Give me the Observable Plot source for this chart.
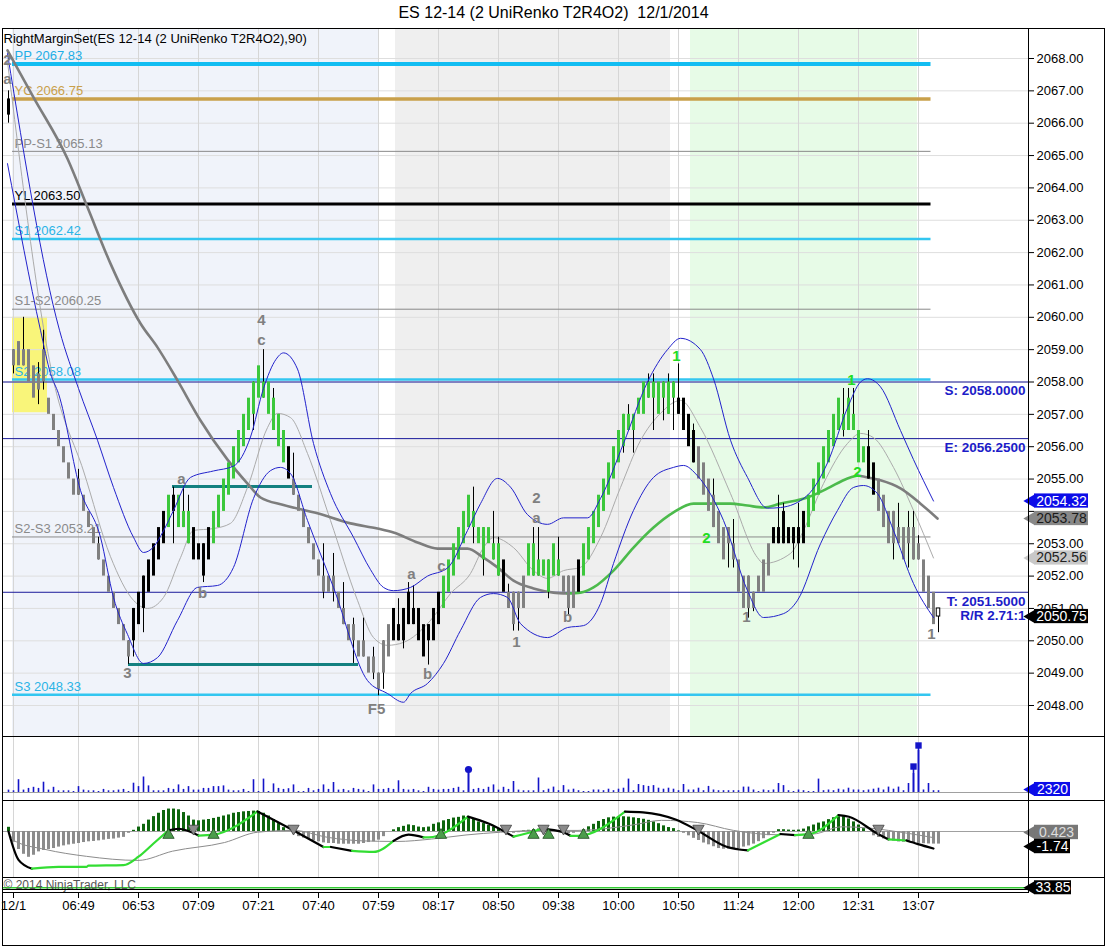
<!DOCTYPE html>
<html>
<head>
<meta charset="utf-8">
<script src="https://cdn.jsdelivr.net/npm/d3@7"></script>
<script src="https://cdn.jsdelivr.net/npm/@observablehq/plot@0.6"></script>
<style>
  html, body { margin: 0; padding: 0; background: #fff; }
  #wrap { position: relative; width: 1107px; height: 948px; overflow: hidden; background: #fff; font-family: "Liberation Sans", Arial, Helvetica, sans-serif; }
  #wrap svg { position: absolute; left: 0; }
  .hl { position: absolute; background: #000; height: 1px; }
  .vl { position: absolute; background: #000; width: 1px; }
  #title { position: absolute; top: 4px; left: 0; width: 1107px; text-align: center; font-size: 16px; color: #000; }
</style>
</head>
<body>
<div id="wrap">
  <div id="title">ES 12-14 (2 UniRenko T2R4O2)&nbsp;&nbsp;12/1/2014</div>
</div>
<script>
// ---------------- DATA ----------------
const tickIdx = [1, 14, 26, 38, 50, 62, 74, 86, 98, 110, 122, 134, 146, 158, 170, 182];
const tickLabels = ["12/1","06:49","06:53","07:09","07:21","07:40","07:59","08:17","08:50","09:38","10:00","10:50","11:24","12:00","12:31","13:07"];
const priceTicks = d3.range(2048, 2069);
const hiddenPriceLabels = [2054]; // covered by the price tags in the reference

const barOpen = [2066.75,
 2059.0,2059.25,2059.0,2059.0,2058.5,2058.25,2059.0,2057.5,2057.0,
 2056.5,2056.0,2055.5,2055.0,2055.0,2054.5,2054.0,2053.5,2053.0,2052.5,
 2052.0,2051.5,2051.0,2050.5,2050.0,2050.0,2050.5,2051.0,2051.5,2052.0,
 2052.5,2053.0,2053.5,2054.5,2053.5,2053.5,2053.0,2053.5,2053.0,2053.0,
 2052.5,2053.0,2053.5,2054.0,2054.5,2055.0,2055.5,2056.0,2056.5,2057.0,
 2057.5,2057.5,2058.0,2057.5,2057.0,2056.5,2056.0,2055.0,2054.5,2054.0,
 2053.5,2053.0,2052.5,2052.0,2052.0,2052.0,2051.5,2051.0,2050.5,2050.5,
 2050.0,2050.0,2049.5,2049.5,2049.0,2049.0,2049.5,2050.0,2050.5,2051.0,
 2050.5,2051.0,2051.0,2050.5,2050.5,2050.0,2050.5,2051.0,2051.5,2052.0,
 2052.5,2053.0,2053.5,2053.5,2053.5,2053.5,2053.5,2053.0,2053.0,2052.5,
 2051.5,2051.5,2051.5,2052.0,2052.0,2052.0,2052.0,2052.0,2052.5,2052.0,
 2052.0,2052.0,2052.0,2052.0,2051.5,2052.0,2052.5,2053.0,2053.5,2054.0,
 2054.5,2055.0,2055.5,2056.0,2056.5,2056.5,2057.0,2057.0,2057.5,2057.5,
 2057.0,2057.5,2057.0,2057.5,2057.5,2057.5,2057.0,2056.5,2056.0,2055.5,
 2055.0,2054.5,2054.0,2053.5,2053.5,2053.0,2052.5,2052.0,2052.0,2051.5,
 2052.0,2052.5,2053.0,2053.0,2053.0,2053.0,2053.5,2053.5,2053.5,2053.0,
 2053.5,2054.0,2054.5,2055.0,2055.5,2056.0,2056.5,2056.5,2056.5,2056.5,
 2056.5,2056.0,2056.0,2055.5,2055.0,2054.5,2054.0,2054.0,2053.5,2053.5,
 2053.5,2053.5,2053.0,2052.5,2052.0,2051.5,2051.0];
const barClose = [2066.25,
 2058.5,2058.5,2058.5,2058.0,2057.5,2057.75,2058.0,2057.0,2056.5,
 2056.0,2055.5,2055.0,2054.5,2054.5,2054.0,2053.5,2053.0,2052.5,2052.0,
 2051.5,2051.0,2050.5,2050.0,2049.5,2051.0,2051.5,2052.0,2052.5,2053.0,
 2053.5,2054.0,2054.5,2054.0,2054.5,2054.0,2054.0,2052.5,2052.5,2052.0,
 2053.5,2054.0,2054.5,2055.0,2055.5,2056.0,2056.5,2057.0,2057.5,2058.0,
 2058.5,2058.0,2057.0,2056.5,2056.0,2055.5,2055.0,2054.5,2054.0,2053.5,
 2053.0,2052.5,2052.0,2051.5,2051.5,2051.5,2051.0,2050.5,2050.0,2050.0,
 2049.5,2049.5,2049.0,2049.0,2048.5,2050.0,2050.5,2051.0,2050.0,2050.0,
 2051.5,2050.5,2050.0,2049.5,2050.0,2051.0,2051.5,2052.0,2052.5,2053.0,
 2053.5,2054.0,2054.5,2054.0,2053.0,2052.5,2053.0,2052.5,2052.0,2051.5,
 2051.0,2050.5,2051.0,2051.0,2053.0,2053.0,2052.5,2052.5,2051.5,2053.0,
 2052.5,2051.5,2051.0,2051.0,2052.5,2053.0,2053.5,2054.0,2054.5,2055.0,
 2055.5,2056.0,2056.5,2057.0,2057.0,2057.0,2057.5,2058.0,2058.0,2058.0,
 2058.0,2058.0,2058.0,2058.0,2057.0,2056.5,2056.0,2055.5,2055.0,2054.5,
 2054.0,2053.5,2053.0,2052.5,2053.0,2052.5,2051.5,2051.0,2051.0,2051.0,
 2051.5,2051.5,2052.0,2053.5,2053.5,2054.0,2053.0,2053.0,2053.0,2054.0,
 2054.5,2055.0,2055.5,2056.0,2056.5,2057.0,2057.5,2057.0,2057.5,2057.0,
 2055.5,2055.5,2055.0,2054.5,2054.0,2053.5,2053.0,2053.0,2053.0,2052.5,
 2053.0,2052.5,2052.5,2051.5,2051.0,2050.5,2050.75];
// bar colour runs: k black, s gray, g green, w current (hollow)
const colorRuns = [["k",1],["s",24],["k",7],["g",1],["k",1],["g",3],["k",4],["g",15],["k",1],["s",20],["k",10],["g",12],["k",1],["s",4],["g",7],["s",3],["k",1],["g",19],["k",4],["s",15],["k",7],["g",12],["k",2],["s",12],["w",1]];
// wicks: [bar, high, low]
const wicks = [[0,2067.0,2066.0],[1,2059.0,2058.25],[3,2060.0,2058.5],[6,2058.6,2057.3],[7,2059.6,2057.75],[14,2055.3,2054.5],[18,2053.2,2052.5],[24,2050.0,2049.27],[25,2051.0,2049.5],[27,2052.0,2050.25],[33,2054.75,2053.0],[35,2054.75,2053.5],[36,2054.5,2053.0],[39,2053.0,2051.8],[49,2058.0,2056.5],[51,2059.0,2057.5],[53,2057.8,2056.5],[57,2055.8,2054.5],[63,2053.0,2051.3],[65,2052.7,2051.2],[67,2051.8,2050.5],[69,2050.7,2049.3],[71,2050.7,2049.5],[73,2049.8,2048.8],[74,2049.0,2048.3],[75,2050.0,2048.5],[78,2051.3,2050.0],[79,2051.0,2049.75],[80,2051.8,2050.5],[81,2051.7,2050.5],[84,2050.5,2049.25],[93,2054.75,2053.0],[95,2053.5,2052.0],[97,2054.0,2052.5],[98,2053.2,2052.0],[100,2051.75,2051.0],[101,2051.5,2050.3],[102,2051.5,2050.3],[105,2053.5,2052.0],[106,2053.5,2052.0],[108,2052.5,2051.3],[110,2053.2,2052.0],[112,2052.0,2050.8],[123,2057.0,2055.8],[124,2057.3,2056.5],[125,2057.0,2055.8],[128,2058.25,2057.5],[129,2058.25,2056.5],[131,2058.0,2056.8],[132,2058.25,2057.0],[133,2058.0,2056.5],[134,2058.56,2057.0],[137,2056.7,2055.5],[141,2055.0,2053.5],[144,2053.5,2052.25],[145,2053.75,2052.25],[148,2052.0,2050.7],[149,2051.5,2050.9],[154,2054.5,2053.0],[155,2054.25,2053.0],[157,2053.5,2052.5],[158,2054.25,2052.25],[167,2057.8,2056.3],[168,2057.8,2056.5],[169,2057.8,2056.5],[172,2056.5,2055.0],[177,2054.0,2052.5],[178,2054.25,2053.0],[180,2054.0,2052.25],[181,2054.0,2052.5],[182,2053.25,2052.5],[186,2051.0,2050.25]];

// indicator curves [bar, price]
const upperBand = [[-0.2,2068.15],[10.2,2059.6],[14,2057.8],[17.8,2056.2],[21,2054.74],[25,2053.2],[27,2052.73],[29,2052.9],[31,2053.4],[33,2054.03],[36.4,2055.05],[41,2055.25],[45,2055.4],[48.4,2056.3],[51,2057.8],[53.5,2058.7],[55,2058.9],[57.8,2058.4],[61,2056.1],[64.4,2054.55],[69,2053.2],[72.4,2052.2],[75,2051.65],[77,2051.55],[80.4,2051.65],[83.8,2052.0],[87.8,2052.25],[91.8,2053.41],[94.4,2054.24],[97.8,2055.02],[100.4,2054.75],[103.8,2053.9],[107.8,2053.6],[111,2053.8],[115.8,2053.8],[118.4,2054.4],[123,2056.1],[127.8,2058.0],[131.8,2059.0],[134.4,2059.35],[138.4,2059.0],[141,2058.1],[144.4,2056.2],[147.8,2055.05],[151.8,2054.1],[154.4,2054.12],[159.8,2054.5],[163.8,2055.5],[167.8,2057.2],[170.4,2058.0],[171.8,2058.1],[174.4,2057.85],[178.4,2056.5],[181,2055.6],[185,2054.32]];
const lowerBand = [[-0.2,2064.75],[6.4,2059.6],[8.4,2058.26],[10,2057.64],[14.4,2054.65],[18.4,2053.2],[21,2051.34],[23.8,2050.2],[27,2049.3],[29.8,2049.48],[33.8,2050.63],[37.8,2051.65],[41.8,2051.71],[45,2052.27],[49,2054.4],[52.4,2055.26],[54.4,2055.36],[56.4,2055.17],[59.8,2053.72],[65,2051.65],[71.8,2048.77],[75.8,2048.37],[79,2048.1],[80.4,2048.37],[83.8,2048.68],[87,2049.3],[90.4,2050.32],[94.4,2051.34],[97,2051.46],[99.8,2051.34],[102.4,2050.53],[107.8,2050.1],[111.8,2050.41],[115,2050.47],[118.4,2051.15],[121,2052.39],[125,2054.03],[129,2055.05],[133,2055.36],[135,2055.42],[137.8,2055.1],[143,2053.72],[147.8,2051.55],[151,2050.72],[155,2050.84],[157.8,2051.25],[162.4,2053.0],[165.8,2054.03],[169,2054.74],[171,2054.8],[173.8,2054.55],[177,2053.41],[181,2051.77],[185,2050.72]];
const midLine = [[-0.2,2067.9],[9,2058.05],[15,2055.25],[20.4,2052.6],[25,2051.25],[27.8,2051.0],[31,2051.34],[34.4,2052.57],[37,2053.41],[41,2053.47],[44.4,2053.63],[47.8,2054.74],[51.8,2056.59],[53.8,2057.03],[56.4,2056.9],[59.8,2055.79],[64.4,2053.72],[69.8,2051.25],[73,2050.1],[75.8,2049.86],[79,2049.95],[84.4,2050.63],[88.4,2051.46],[92.4,2052.08],[95,2052.88],[97,2053.19],[101,2052.88],[105,2052.17],[107.8,2051.93],[111,2052.17],[114.4,2052.27],[118.4,2053.19],[122.4,2054.74],[126.4,2056.19],[130.4,2057.03],[134.4,2057.43],[138.4,2056.59],[144.4,2054.55],[149.8,2052.57],[151,2052.39],[156.4,2052.7],[159,2053.41],[163,2054.86],[167.8,2056.1],[170.4,2056.41],[173,2056.28],[177,2055.36],[181,2054.03],[185,2052.56]];
const slowMaA = [[-0.2,2068.25],[5,2066.8],[11.8,2064.9],[15.8,2063.4],[20.4,2061.66],[26.4,2059.81],[29.8,2059.07],[33.8,2058.05],[38.4,2056.81],[43.8,2055.6],[47.8,2054.86],[50.4,2054.43],[55,2054.2],[61.8,2053.94],[68.4,2053.63],[73.8,2053.47],[77,2053.35],[81.8,2053.04],[85.8,2052.85],[91.8,2052.85],[95,2052.57],[97.8,2052.27],[101,2051.86],[105,2051.62],[109,2051.49],[111.8,2051.46]];
const slowMaB = [[111.8,2051.46],[114.4,2051.49],[117,2051.65],[121,2052.17],[125,2052.88],[129,2053.5],[133,2053.97],[137,2054.24],[141,2054.24],[144.4,2054.24],[147.8,2054.18],[151,2054.12],[154.4,2054.24],[159.8,2054.43],[163.8,2054.71],[167.8,2055.02],[169.8,2055.11]];
const slowMaC = [[169.8,2055.11],[171.8,2055.05],[174.4,2054.96],[178.4,2054.71],[182.4,2054.24],[185.8,2053.78]];

const pivotNames = ["PP","YC","PP-S1","YL","S1","S1-S2","S2","S2-S3","S3"];
const pivotValues = [2067.83, 2066.75, 2065.13, 2063.50, 2062.42, 2060.25, 2058.08, 2053.21, 2048.33];
const tradeValues = [2058.0, 2056.25, 2051.5];
const tradeLabels = ["S: 2058.0000", "E: 2056.2500", "T: 2051.5000"];
const rrLabel = "R/R 2.71:1";
const tealLevels = [[32.8, 60.8, 2054.77], [24, 70, 2049.27]];
const sessionSpans = [[0.8, 74], [77.4, 132.4], [136.4, 181.8]];
const yellowBox = [0.8, 7.8, 2057.05, 2060.0];
const waveGray = [[-0.2,2067.94,"2"],[-0.2,2067.35,"a"],[50.6,2059.9,"4"],[50.6,2059.3,"c"],[34.6,2055.0,"a"],[23.8,2049.0,"3"],[38.8,2051.46,"b"],[80.6,2052.05,"a"],[86.6,2052.3,"c"],[83.8,2048.96,"b"],[73.6,2047.9,"F5"],[105.6,2054.4,"2"],[105.6,2053.8,"a"],[101.6,2049.97,"1"],[111.8,2050.72,"b"],[147.6,2050.72,"1"],[184.6,2050.2,"1"]];
const waveGreen = [[133.6,2058.8,"1"],[168.6,2058.05,"1"],[169.8,2055.2,"2"],[139.6,2053.16,"2"]];
const priceTags = [[2054.32,"2054.32"],[2053.78,"2053.78"],[2052.56,"2052.56"],[2050.75,"2050.75"]];

const volume = [1850,1310,9860,1850,3160,4000,3160,7930,1850,4000,
 1310,1310,1310,770,4540,1850,1310,1310,770,2390,
 1310,1310,1850,2390,770,7160,4540,11940,5080,1310,
 1310,1310,3160,2390,5850,2390,4540,1850,1850,3160,
 3160,4540,4540,5080,1850,1310,1310,2390,770,9860,
 770,10320,770,6620,3160,2390,2930,5850,770,770,
 3160,1310,2390,5850,2390,7700,1850,2390,1310,3160,
 2390,1850,770,5850,2390,2390,3160,2390,9010,2390,
 1850,2390,1310,770,4000,2390,1850,2390,2390,3160,
 4000,1310,15170,2390,3160,2390,4000,5850,1850,4000,
 2390,8470,1850,1310,1310,1310,11170,1390,2540,4160,
 1390,5310,1930,2540,1390,770,770,1930,1930,1390,
 2540,1390,2540,3310,10320,1390,6160,5310,4700,5310,
 3310,2540,3310,2540,1390,6160,1930,1930,3310,1390,
 4700,1930,1390,1390,1390,1390,1390,4160,4160,1930,
 770,1930,1390,1930,6930,5310,1390,770,1930,1390,
 770,770,10320,1390,1930,1390,2540,1930,3310,1930,
 1930,1390,1930,2540,3310,1930,4160,2540,4160,1390,
 6930,14630,32340,1930,6930,1390,1390];
const volMarkers = [[92, 17700, "circle"], [181, 20000, "square"], [182, 36200, "square"]];
const volTag = [2320, "2320"];

const oscHist = [0.35,-0.9,-1.5,-1.9,-2.15,-1.98,-1.7,-1.58,-1.5,-1.42,
 -1.3,-1.2,-1.12,-1.06,-1.0,-0.92,-0.86,-0.83,-0.78,-0.72,
 -0.66,-0.63,-0.55,-0.49,-0.15,0.1,0.37,0.6,0.95,1.24,
 1.52,1.75,1.87,1.87,1.81,1.58,1.29,0.95,0.89,0.95,
 1.0,1.09,1.18,1.29,1.38,1.52,1.58,1.64,1.67,1.7,
 1.67,1.52,1.29,1.0,0.66,0.32,0.09,-0.2,-0.43,-0.55,
 -0.66,-0.78,-0.86,-0.95,-1.0,-1.0,-1.06,-1.06,-1.06,-1.06,
 -1.06,-1.0,-0.92,-0.86,-0.72,-0.43,0.0,0.14,0.32,0.43,
 0.55,0.49,0.37,0.32,0.37,0.6,0.72,0.89,1.0,1.12,
 1.18,1.29,1.24,1.0,0.8,0.66,0.52,0.37,0.2,0.09,
 -0.05,-0.15,-0.1,0.05,0.1,0.15,0.2,0.15,0.1,0.05,
 -0.05,-0.15,-0.2,-0.15,0.0,0.15,0.39,0.6,0.84,1.0,
 1.14,1.2,1.23,1.23,1.2,1.14,1.08,1.02,0.93,0.8,
 0.65,0.47,0.33,0.24,0.05,-0.15,-0.36,-0.57,-0.75,-0.96,
 -1.11,-1.27,-1.42,-1.48,-1.48,-1.48,-1.42,-1.3,-1.2,-1.05,
 -0.85,-0.6,-0.35,-0.15,0.15,0.15,0.12,0.1,0.12,0.2,
 0.39,0.54,0.7,0.8,0.99,1.15,1.23,1.23,1.05,0.8,
 0.54,0.24,-0.06,-0.36,-0.5,-0.62,-0.75,-0.8,-0.87,-0.9,
 -0.93,-0.97,-0.99,-1.02,-1.04,-1.05,-1.05];
const macdSegs = [
 ["k", [[0,0],[2,-2.36],[4.7,-3.1]]],
 ["g", [[4.7,-3.1],[10,-2.95],[15.6,-2.95],[16,-2.85],[23,-2.8],[26,-2.1],[29,-1.0],[32,0.09]]],
 ["k", [[32,0.09],[34,0.23],[38,-0.34]]],
 ["g", [[38,-0.34],[41,-0.26],[49.8,1.67]]],
 ["k", [[49.8,1.67],[57,0.09],[63,-1.29]]],
 ["g", [[63,-1.29],[64.5,-1.29]]],
 ["k", [[64.5,-1.29],[68.7,-1.62]]],
 ["g", [[68.7,-1.62],[73,-1.7],[77,-0.78]]],
 ["k", [[77,-0.78],[80,-0.26],[83,-0.49]]],
 ["g", [[83,-0.49],[84,-0.49],[91.9,1.24]]],
 ["k", [[91.9,1.24],[96,0.66],[101,-0.43]]],
 ["g", [[101,-0.43],[106,0.14],[106.6,0.24]]],
 ["k", [[106.6,0.24],[110.9,-0.06],[112.4,-0.36]]],
 ["g", [[112.4,-0.36],[113.9,-0.36],[123.3,1.66]]],
 ["k", [[123.3,1.66],[126.9,1.6],[133.4,1.0],[137.8,0.09],[143.6,-1.27],[147.9,-1.57]]],
 ["g", [[147.9,-1.57],[154.4,-0.21]]],
 ["k", [[154.4,-0.21],[157.3,-0.3]]],
 ["g", [[157.3,-0.3],[160.2,-0.21],[166,1.36]]],
 ["k", [[166,1.36],[168.1,1.23],[173.9,-0.21],[176,-0.66]]],
 ["g", [[176,-0.66],[179.6,-0.75]]],
 ["k", [[179.6,-0.75],[181.9,-1.05],[185,-1.42]]]
];
const oscSignal = [[0,0],[1.2,-0.78],[7.3,-1.49],[15.6,-2.07],[25.9,-2.41],[32.8,-1.64],[43.2,-0.92],[49.8,-0.06],[57,0.09],[63.9,-0.49],[70.8,-0.78],[77.7,-0.83],[84.6,-0.63],[91.5,-0.29],[98.4,-0.06],[106,0.09],[113.9,0.09],[124.8,0.54],[130.6,0.93],[137.8,0.75],[145,0.09],[153.7,-0.27],[160.9,-0.21],[166.7,0.39],[171.8,0.3],[176,0.09],[185,-0.51]];
const upTriangles = [32, 41, 86.5, 105, 108, 115, 160];
const downTriangles = [37, 57, 99.5, 107, 111, 138, 174];
const oscTags = [[-0.08, "0.423"], [-1.25, "-1.74"]];
const adxLevel = 33.85;
const adxTag = [33.85, "33.85"];
const copyright = "© 2014 NinjaTrader, LLC";
const chartName = "RightMarginSet(ES 12-14 (2 UniRenko T2R4O2),90)";

// ---------------- STYLE ----------------
const FONT = '"Liberation Sans", Arial, Helvetica, sans-serif';
const wrap = document.getElementById("wrap");
const xScale = {domain: [-1, 204], range: [3, 1028], axis: null};
const barFill = {k: "#000000", s: "#808080", g: "#3cc83c"};
const pivotStyle = [
  {stroke: "#12bdf2", w: 4, text: "#1eaee6"},
  {stroke: "#c9a04a", w: 3.5, text: "#c9a04a"},
  {stroke: "#8a8a8a", w: 1, text: "#8a8a8a"},
  {stroke: "#000000", w: 3, text: "#000000"},
  {stroke: "#33c6f0", w: 2.5, text: "#2ab4e6"},
  {stroke: "#8a8a8a", w: 1, text: "#8a8a8a"},
  {stroke: "#33c6f0", w: 2.5, text: "#2ab4e6"},
  {stroke: "#8a8a8a", w: 1, text: "#8a8a8a"},
  {stroke: "#33c6f0", w: 2.5, text: "#2ab4e6"}
];
const sessionFill = ["#f0f3fa", "#efefef", "#e7fbe7"];
const tagColors = {
  "2054.32": ["#0c0ce8", "#ffffff"], "2053.78": ["#888888", "#1a1a1a"],
  "2052.56": ["#c8c8c8", "#222222"], "2050.75": ["#000000", "#ffffff"],
  "2320": ["#0c0ce8", "#ffffff"], "0.423": ["#777777", "#dddddd"],
  "-1.74": ["#000000", "#ffffff"], "33.85": ["#000000", "#ffffff"]
};
const tagEnd = {"2054.32": 216, "2053.78": 216, "2052.56": 216, "2050.75": 216, "2320": 212.4, "0.423": 214, "-1.74": 212.4, "33.85": 212.6};

function tagMarks(tags, halfH) {
  const out = [];
  tags.forEach(([v, label]) => {
    const [bg, fg] = tagColors[label];
    const d = [{v, label}];
    out.push(Plot.rect(d, {x1: () => 205.2, x2: () => tagEnd[label], y1: t => t.v - halfH, y2: t => t.v + halfH, fill: bg}));
    out.push(Plot.dot(d, {x: () => 204.4, y: "v", symbol: "triangle", r: 4.6, rotate: -90, fill: bg}));
    out.push(Plot.text(d, {x: () => (205.2 + tagEnd[label]) / 2, y: "v", text: "label", fill: fg, fontSize: 14}));
  });
  return out;
}

function place(svg, top) {
  svg.style.top = top + "px";
  wrap.appendChild(svg);
}
const base = (h, mb) => ({width: 1107, height: h, marginLeft: 3, marginRight: 79, marginTop: 0, marginBottom: mb || 0,
  style: {fontFamily: FONT, fontSize: "13px", background: "transparent", color: "#000", overflow: "hidden"}});

// ---------------- PRICE PANEL ----------------
const barColors = colorRuns.flatMap(([c, n]) => Array(n).fill(c));
const bars = barOpen.map((o, i) => ({i, o, c: barClose[i], col: barColors[i]}));

const pm = [];
sessionSpans.forEach((s, k) => pm.push(Plot.rect([s], {x1: d => d[0], x2: d => d[1], y1: () => 2046.5, y2: () => 2069.5, fill: sessionFill[k]})));
pm.push(Plot.rect([yellowBox], {x1: d => d[0], x2: d => d[1], y1: d => d[2], y2: d => d[3], fill: "#f9f57a"}));
pm.push(Plot.ruleY(priceTicks, {stroke: "#dedede", strokeWidth: 1}));
pm.push(Plot.ruleX(tickIdx, {stroke: "#d6d6d6", strokeWidth: 1}));
pivotValues.forEach((v, k) => {
  const st = pivotStyle[k];
  pm.push(Plot.ruleY([v], {y: d => d, x1: () => 0.8, x2: () => 184.5, stroke: st.stroke, strokeWidth: st.w}));
  pm.push(Plot.text([v], {x: () => 1.2, y: d => d, text: d => `${pivotNames[k]} ${d.toFixed(2)}`, textAnchor: "start", dy: -8, fill: st.text, fontSize: 13}));
});
pm.push(Plot.ruleY(tradeValues, {stroke: "#1a1a9a", strokeWidth: 1}));
pm.push(Plot.ruleY(tealLevels, {y: d => d[2], x1: d => d[0], x2: d => d[1], stroke: "#138080", strokeWidth: 3}));
pm.push(Plot.line(midLine, {x: d => d[0], y: d => d[1], curve: "monotone-x", stroke: "#ababab", strokeWidth: 1}));
pm.push(Plot.line(slowMaA, {x: d => d[0], y: d => d[1], curve: "monotone-x", stroke: "#7d7d7d", strokeWidth: 2.6}));
pm.push(Plot.line(slowMaB, {x: d => d[0], y: d => d[1], curve: "monotone-x", stroke: "#4cbb4c", strokeWidth: 2.6}));
pm.push(Plot.line(slowMaC, {x: d => d[0], y: d => d[1], curve: "monotone-x", stroke: "#7d7d7d", strokeWidth: 2.6}));
pm.push(Plot.ruleX(wicks, {x: d => d[0], y1: d => d[2], y2: d => d[1], stroke: "#000", strokeWidth: 1}));
["s", "g", "k"].forEach(c => pm.push(Plot.ruleX(bars.filter(b => b.col === c), {x: "i", y1: "o", y2: "c", stroke: barFill[c], strokeWidth: 3})));
pm.push(Plot.rect(bars.filter(b => b.col === "w"), {x1: d => d.i - 0.35, x2: d => d.i + 0.35, y1: "o", y2: "c", fill: "#fff", stroke: "#000", strokeWidth: 1}));
pm.push(Plot.line(upperBand, {x: d => d[0], y: d => d[1], curve: "monotone-x", stroke: "#2222cc", strokeWidth: 1}));
pm.push(Plot.line(lowerBand, {x: d => d[0], y: d => d[1], curve: "monotone-x", stroke: "#2222cc", strokeWidth: 1}));
pm.push(Plot.text(waveGray, {x: d => d[0], y: d => d[1], text: d => d[2], fill: "#808080", fontWeight: "bold", fontSize: 15}));
pm.push(Plot.text(waveGreen, {x: d => d[0], y: d => d[1], text: d => d[2], fill: "#22dd22", fontWeight: "bold", fontSize: 15}));
pm.push(Plot.text(tradeValues, {x: () => 203.4, y: d => d, text: (d, i) => tradeLabels[i], textAnchor: "end", dy: 9, fill: "#1c1cc8", fontWeight: "bold", fontSize: 13.5}));
pm.push(Plot.text([tradeValues[2]], {x: () => 203.4, y: d => d, text: () => rrLabel, textAnchor: "end", dy: 23, fill: "#1c1cc8", fontWeight: "bold", fontSize: 13.5}));
pm.push(Plot.text([chartName], {frameAnchor: "top-left", text: d => d, textAnchor: "start", lineAnchor: "top", dy: 4, fill: "#000", fontSize: 13}));
pm.push(Plot.axisY(priceTicks, {anchor: "right", tickSize: 5, tickPadding: 3, tickFormat: d => hiddenPriceLabels.includes(d) ? "" : d.toFixed(2), fontSize: 13, label: null}));
pm.push(...tagMarks(priceTags, 0.22));

place(Plot.plot({...base(707), x: xScale, y: {domain: [2048, 2068], range: [676, 29], axis: null}, marks: pm}), 29);

// ---------------- VOLUME PANEL ----------------
const volData = volume.map((v, i) => ({i, v}));
const vm = [
  Plot.ruleX(tickIdx, {stroke: "#d6d6d6"}),
  Plot.ruleY([0], {stroke: "#a0a0a0"}),
  Plot.ruleX(volData, {x: "i", y1: () => 0, y2: "v", stroke: "#1414c8", strokeWidth: 1.6}),
  Plot.ruleX(volMarkers, {x: d => d[0], y1: () => 0, y2: d => d[1], stroke: "#1414c8", strokeWidth: 1.6}),
  Plot.dot(volMarkers.filter(d => d[2] === "circle"), {x: d => d[0], y: d => d[1], r: 3.6, fill: "#1414c8"}),
  Plot.dot(volMarkers.filter(d => d[2] === "square"), {x: d => d[0], y: d => d[1], symbol: "square", r: 3.6, fill: "#1414c8"}),
  ...tagMarks([volTag], 5400)
];
place(Plot.plot({...base(64), x: xScale, y: {domain: [0, 40000], range: [56, 4.05], axis: null}, marks: vm}), 736);

// ---------------- OSCILLATOR PANEL ----------------
const histData = oscHist.map((v, i) => ({i, v}));
const om = [
  Plot.ruleX(tickIdx, {stroke: "#d6d6d6"}),
  Plot.ruleY([0], {stroke: "#a0a0a0"}),
  Plot.ruleX(histData.filter(d => d.v >= 0), {x: "i", y1: () => 0, y2: "v", stroke: "#0d650d", strokeWidth: 3}),
  Plot.ruleX(histData.filter(d => d.v < 0), {x: "i", y1: () => 0, y2: "v", stroke: "#8c8c8c", strokeWidth: 3}),
  Plot.line(oscSignal, {x: d => d[0], y: d => d[1], curve: "monotone-x", stroke: "#8c8c8c", strokeWidth: 1})
];
macdSegs.forEach(([c, pts]) => om.push(Plot.line(pts, {x: d => d[0], y: d => d[1], curve: "monotone-x", stroke: c === "g" ? "#33dd33" : "#000000", strokeWidth: 2.2})));
om.push(Plot.dot(upTriangles, {x: d => d, y: () => -0.3, symbol: "triangle", r: 4.2, fill: "#4c9c4c", stroke: "#1e4a1e", strokeWidth: 0.8}));
om.push(Plot.dot(downTriangles, {x: d => d, y: () => 0.25, symbol: "triangle", r: 4.2, rotate: 180, fill: "#8a8a8a", stroke: "#404040", strokeWidth: 0.8}));
om.push(...tagMarks(oscTags, 0.6));
place(Plot.plot({...base(77), x: xScale, y: {domain: [-3, 3], range: [67, -5], axis: null}, marks: om}), 800);

// ---------------- BOTTOM PANEL + TIME AXIS ----------------
const bm = [
  Plot.ruleY([adxLevel], {stroke: "#33cc33", strokeWidth: 1.5}),
  Plot.text([copyright], {frameAnchor: "top-left", text: d => d, textAnchor: "start", lineAnchor: "middle", dy: 8, fill: "#555", fontSize: 12}),
  Plot.axisX(tickIdx, {anchor: "bottom", tickSize: 6, tickPadding: 2, tickFormat: d => tickLabels[tickIdx.indexOf(d)], fontSize: 13, label: null}),
  ...tagMarks([adxTag], 50)
];
place(Plot.plot({...base(71, 56), x: xScale, y: {domain: [0, 100], range: [15, 1], axis: null}, marks: bm}), 877);

// ---------------- FRAME LINES ----------------
function hl(top, left, width) { const d = document.createElement("div"); d.className = "hl"; d.style.top = top + "px"; d.style.left = left + "px"; d.style.width = width + "px"; wrap.appendChild(d); }
function vl(left, top, height) { const d = document.createElement("div"); d.className = "vl"; d.style.left = left + "px"; d.style.top = top + "px"; d.style.height = height + "px"; wrap.appendChild(d); }
hl(28, 2, 1103); hl(945, 2, 1103); vl(2, 28, 918); vl(1104, 28, 918);
hl(736, 2, 1103); hl(800, 2, 1103); hl(877, 2, 1103);
hl(889, 2, 1027); hl(892, 2, 1027);
vl(1028, 28, 865);
</script>
</body>
</html>
